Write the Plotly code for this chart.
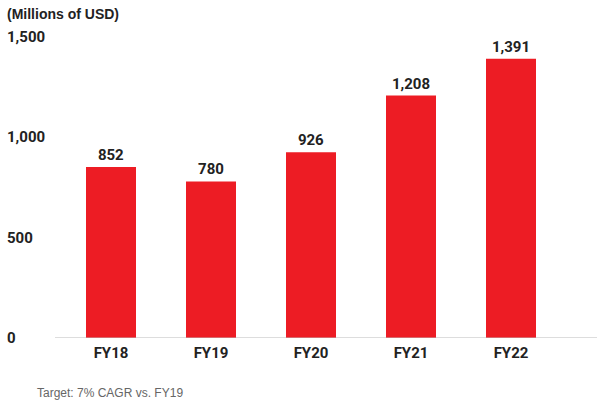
import plotly.graph_objects as go

categories = ["FY18", "FY19", "FY20", "FY21", "FY22"]
values = [852, 780, 926, 1208, 1391]
value_labels = ["852", "780", "926", "1,208", "1,391"]
y_ticks = [0, 500, 1000, 1500]
y_tick_labels = ["0", "500", "1,000", "1,500"]

num_font = "Roboto, 'DejaVu Sans Condensed', sans-serif"

fig = go.Figure()
fig.add_trace(go.Bar(
    x=categories, y=values,
    text=value_labels, textposition="outside",
    textfont=dict(family=num_font, size=15, color="#222222", weight="bold"),
    marker=dict(color="#ED1C24", line=dict(width=0)),
    cliponaxis=False,
))

for v, lab in zip(y_ticks, y_tick_labels):
    fig.add_annotation(x=-0.092, xref="paper", y=v, yref="y", text=lab,
                       showarrow=False, xanchor="left", yanchor="middle",
                       font=dict(family=num_font, size=15, color="#222222", weight="bold"))

fig.add_annotation(x=-0.092, xref="paper", y=1.0, yref="paper", yshift=23,
                   text="<b>(Millions of USD)</b>", showarrow=False,
                   xanchor="left", yanchor="middle",
                   font=dict(family="Liberation Sans, Arial, sans-serif", size=14, color="#222222"))

fig.add_annotation(x=-0.037, xref="paper", y=0, yref="paper", yshift=-55,
                   text="Target: 7% CAGR vs. FY19", showarrow=False,
                   xanchor="left", yanchor="middle",
                   font=dict(family="Liberation Sans, Arial, sans-serif", size=12, color="#666666"))

fig.add_shape(type="line", xref="paper", yref="y", x0=0, x1=1.05, y0=0, y1=0,
              line=dict(color="#BBBBBB", width=1), layer="above")

fig.update_layout(
    width=597, height=405,
    margin=dict(l=55, r=0, t=37, b=67),
    paper_bgcolor="white", plot_bgcolor="white",
    bargap=0.5,
    showlegend=False,
    xaxis=dict(range=[-0.56, 4.86], showline=False,
               ticks="", showgrid=False, zeroline=False, ticklabelstandoff=4,
               tickfont=dict(family=num_font, size=15, color="#222222", weight="bold")),
    yaxis=dict(range=[0, 1500], showticklabels=False, showgrid=False, zeroline=False,
               showline=False, tickvals=y_ticks),
)

fig.write_html("out.html", config={"displayModeBar": False},
               post_script="document.body.style.margin='0';document.body.style.overflow='hidden';")
